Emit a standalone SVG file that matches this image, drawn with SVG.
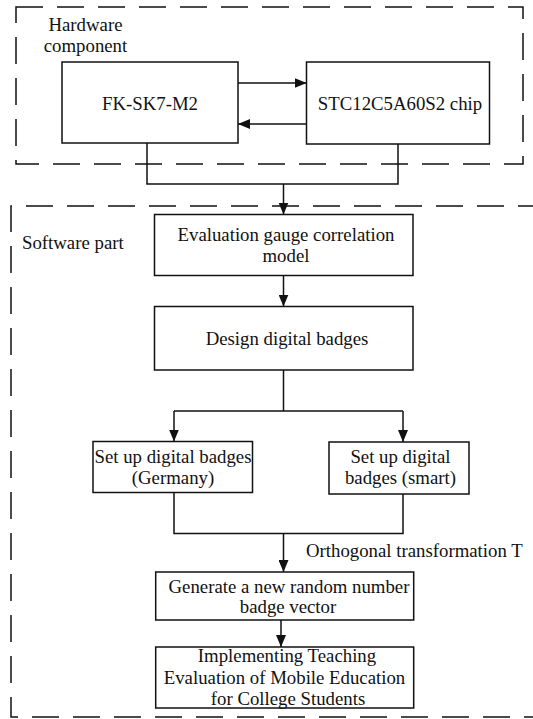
<svg xmlns="http://www.w3.org/2000/svg" width="533" height="719" viewBox="0 0 533 719">
<style>
text{font-family:"Liberation Serif","Times New Roman",serif;font-size:18.8px;fill:#111}
.c{text-anchor:middle}
.box{fill:#fff;stroke:#111;stroke-width:1.5}
.dash{fill:none;stroke:#111;stroke-width:1.5;stroke-dasharray:27 14}
.ln{fill:none;stroke:#111;stroke-width:1.5}
.arr{fill:none;stroke:#111;stroke-width:1.5;marker-end:url(#ah)}
</style>
<defs>
<marker id="ah" viewBox="0 0 12 10" refX="12" refY="5" markerWidth="12" markerHeight="10" markerUnits="userSpaceOnUse" orient="auto">
<path d="M0,0 L12,5 L0,10 Z" fill="#111"/>
</marker>
</defs>
<g id="hardware-group">
<rect class="dash" x="16" y="7" width="507" height="157"/>
<text class="c" x="85.5" y="31">Hardware</text>
<text class="c" x="85.5" y="52">component</text>
</g>
<g id="software-group">
<path class="dash" d="M545,206 H11 V717 H545"/>
<text x="22" y="249">Software part</text>
</g>
<g id="connectors">
<path class="arr" d="M238,83 H306.5"/>
<path class="arr" d="M306.5,124 H238"/>
<path class="ln" d="M147,143 V184 H398 V144"/>
<path class="arr" d="M283.5,184 V214.5"/>
<path class="arr" d="M283.5,275.5 V306.5"/>
<path class="ln" d="M283.5,370 V411 M174,411 H403"/>
<path class="arr" d="M174,411 V441.5"/>
<path class="arr" d="M403,411 V442"/>
<path class="ln" d="M174,492.5 V533.5 H403 V494"/>
<path class="arr" d="M283.5,533.5 V572"/>
<path class="arr" d="M281,620 V647"/>
<text x="306" y="557">Orthogonal transformation T</text>
</g>
<g id="fk">
<rect class="box" x="62" y="62" width="176" height="81"/>
<text class="c" x="150" y="110">FK-SK7-M2</text>
</g>
<g id="stc">
<rect class="box" x="306.5" y="62" width="183" height="82"/>
<text class="c" x="400" y="110">STC12C5A60S2 chip</text>
</g>
<g id="eval-model">
<rect class="box" x="154.5" y="214.5" width="258.5" height="61"/>
<text class="c" x="286" y="241">Evaluation gauge correlation</text>
<text class="c" x="286" y="262">model</text>
</g>
<g id="design">
<rect class="box" x="154.5" y="306.5" width="258.5" height="63.5"/>
<text class="c" x="287" y="345">Design digital badges</text>
</g>
<g id="germany">
<rect class="box" x="93" y="441.5" width="159.5" height="51"/>
<text class="c" x="173" y="463">Set up digital badges</text>
<text class="c" x="173" y="484">(Germany)</text>
</g>
<g id="smart">
<rect class="box" x="329" y="442" width="140" height="52"/>
<text class="c" x="400.5" y="463">Set up digital</text>
<text class="c" x="400.5" y="484">badges (smart)</text>
</g>
<g id="generate">
<rect class="box" x="155.7" y="572" width="258" height="48"/>
<text class="c" x="289" y="593">Generate a new random number</text>
<text class="c" x="288" y="613">badge vector</text>
</g>
<g id="implement">
<rect class="box" x="155.7" y="647" width="258" height="61"/>
<text class="c" x="287" y="662">Implementing Teaching</text>
<text class="c" x="284.5" y="684">Evaluation of Mobile Education</text>
<text class="c" x="288" y="705">for College Students</text>
</g>
</svg>
